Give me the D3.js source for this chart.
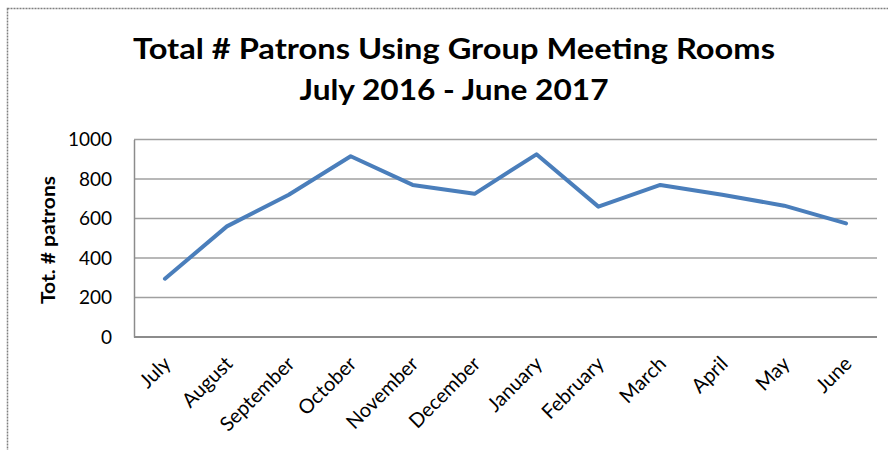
<!DOCTYPE html>
<html>
<head>
<meta charset="utf-8">
<script src="https://cdn.jsdelivr.net/npm/d3@7"></script>
<style>
  html, body { margin: 0; padding: 0; background: #fff; }
  svg { display: block; }
</style>
</head>
<body>
<svg id="chart" width="888" height="450"></svg>
<script>
// Monthly totals of patrons using the group meeting rooms
const months = ["July", "August", "September", "October", "November", "December",
                "January", "February", "March", "April", "May", "June"];
const patrons = [295, 560, 720, 915, 770, 725, 925, 660, 770, 720, 665, 575];
const yTicks = [0, 200, 400, 600, 800, 1000];
const titleLines = ["Total # Patrons Using Group Meeting Rooms", "July 2016 - June 2017"];
const yAxisTitle = "Tot. # patrons";

const font = "Lato, 'Open Sans', sans-serif";
const svg = d3.select("#chart");

// outer chart-area border (dotted grey)
svg.append("rect")
  .attr("x", 7.5).attr("y", 8.5)
  .attr("width", 900).attr("height", 460)
  .attr("fill", "none")
  .attr("stroke", "#7f7f7f")
  .attr("stroke-width", 1.5)
  .attr("stroke-dasharray", "2,1");

const plot = { left: 134, right: 877, top: 139.5, bottom: 337 };

const x = d3.scaleBand().domain(months).range([plot.left, plot.right]);
const y = d3.scaleLinear().domain([0, 1000]).range([plot.bottom, plot.top]);

// horizontal gridlines
svg.append("g")
  .selectAll("line")
  .data(yTicks.filter(d => d > 0))
  .join("line")
  .attr("x1", plot.left).attr("x2", plot.right)
  .attr("y1", d => y(d)).attr("y2", d => y(d))
  .attr("stroke", "#a0a0a0")
  .attr("stroke-width", 1.5);

// y axis line and labels
const yAxis = d3.axisLeft(y).tickValues(yTicks).tickFormat(d3.format("d"))
  .tickSize(0).tickPadding(22);
const gy = svg.append("g").attr("transform", `translate(${plot.left},0)`).call(yAxis);
gy.select(".domain").attr("stroke", "#8c8c8c").attr("stroke-width", 1.5);
gy.selectAll("text")
  .attr("font-family", font).attr("font-size", 19).attr("fill", "#000");

// x axis line and rotated month labels
const xAxis = d3.axisBottom(x).tickSize(0).tickPadding(0);
const gx = svg.append("g").attr("transform", `translate(0,${plot.bottom})`).call(xAxis);
gx.select(".domain").attr("stroke", "#8c8c8c").attr("stroke-width", 2).attr("d", `M${plot.left},0H${plot.right}`);
gx.selectAll(".tick text")
  .attr("font-family", font).attr("font-size", 20).attr("fill", "#000")
  .attr("text-anchor", "end")
  .attr("y", 0).attr("dy", "0")
  .attr("transform", "translate(7,28) rotate(-45)");

// data line
const line = d3.line()
  .x((d, i) => x(months[i]) + x.bandwidth() / 2)
  .y(d => y(d));
svg.append("path")
  .datum(patrons)
  .attr("d", line)
  .attr("fill", "none")
  .attr("stroke", "#4a7ebb")
  .attr("stroke-width", 4)
  .attr("stroke-linejoin", "round")
  .attr("stroke-linecap", "round");

// y axis title
svg.append("text")
  .attr("transform", "translate(55,240) rotate(-90)")
  .attr("text-anchor", "middle")
  .attr("font-family", font).attr("font-weight", "bold").attr("font-size", 18)
  .attr("textLength", 128).attr("lengthAdjust", "spacingAndGlyphs")
  .text(yAxisTitle);

// chart title
const titleWidths = [642, 309];
svg.append("g")
  .selectAll("text")
  .data(titleLines)
  .join("text")
  .attr("x", 454)
  .attr("y", (d, i) => 59 + i * 41)
  .attr("text-anchor", "middle")
  .attr("font-family", font).attr("font-weight", "bold").attr("font-size", 28)
  .attr("textLength", (d, i) => titleWidths[i])
  .attr("lengthAdjust", "spacingAndGlyphs")
  .text(d => d);
</script>
</body>
</html>
